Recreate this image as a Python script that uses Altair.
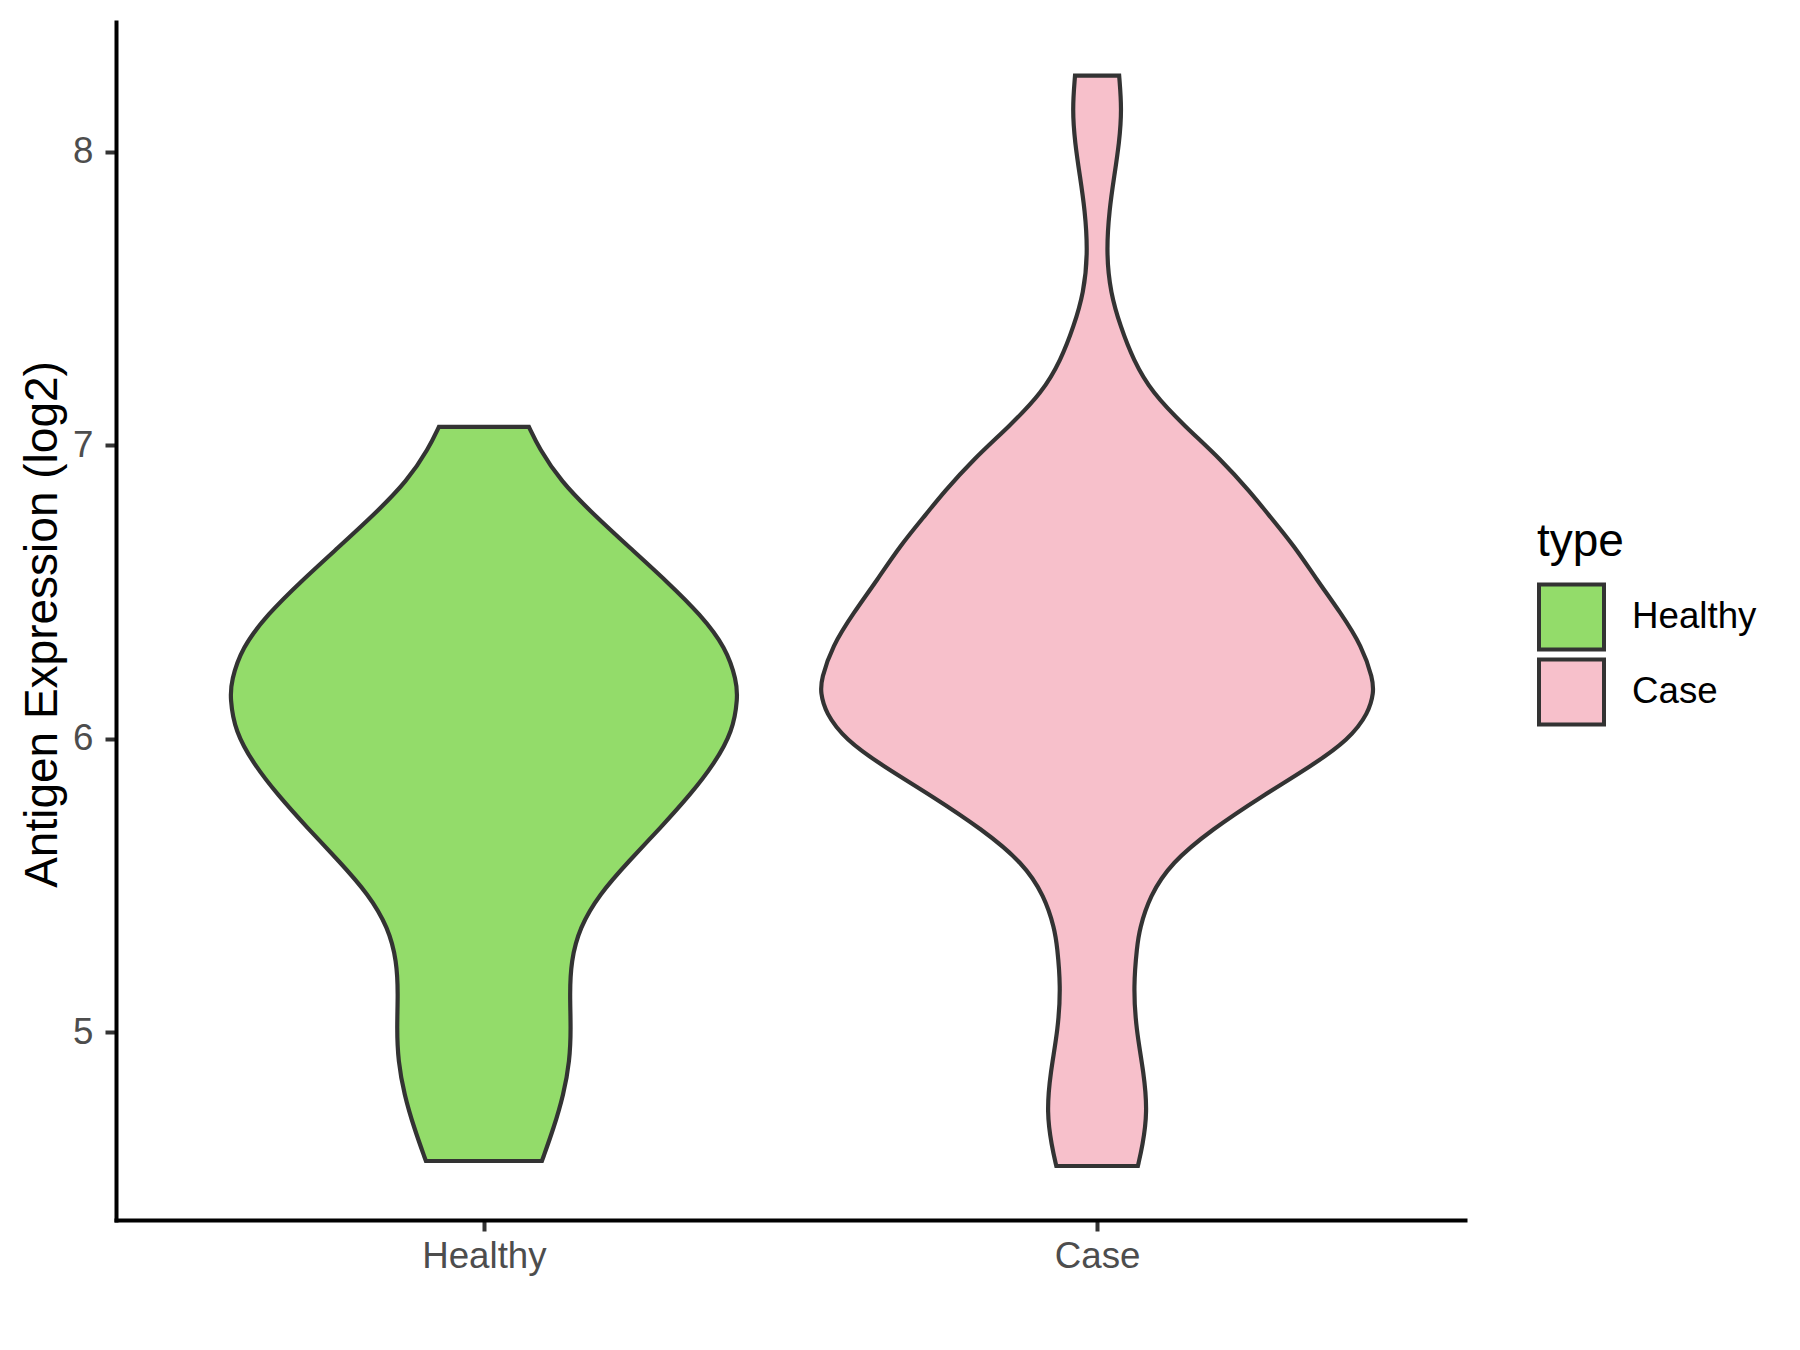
import json
import altair as alt
import pandas as pd

# ---------------- data ----------------
categories = ["Healthy", "Case"]
fill_colors = ["#93DC6A", "#F7C0CB"]

# violin outlines: expression value (log2) and half-width (in category units)
healthy_value = [7.063, 6.991, 6.878, 6.764, 6.651, 6.537, 6.424, 6.310, 6.197, 6.140,
                 6.026, 5.913, 5.811, 5.697, 5.583, 5.470, 5.357, 5.243, 5.129, 5.016,
                 4.902, 4.789, 4.675, 4.562]
healthy_halfwidth = [0.0734, 0.0897, 0.125, 0.179, 0.238, 0.298, 0.353, 0.395, 0.412, 0.414,
                     0.406, 0.375, 0.337, 0.288, 0.236, 0.188, 0.156, 0.142, 0.140, 0.142,
                     0.140, 0.130, 0.114, 0.0946]

case_value = [8.259, 8.144, 8.030, 7.917, 7.803, 7.656, 7.519, 7.406, 7.292, 7.179,
              7.065, 6.952, 6.838, 6.770, 6.656, 6.543, 6.430, 6.316, 6.203, 6.157,
              6.089, 5.998, 5.907, 5.805, 5.691, 5.578, 5.464, 5.351, 5.294, 5.158,
              5.010, 4.863, 4.727, 4.613, 4.545]
case_halfwidth = [0.0360, 0.0404, 0.0361, 0.0280, 0.0199, 0.0150, 0.0218, 0.0380, 0.0587, 0.0897,
                  0.143, 0.202, 0.251, 0.277, 0.322, 0.358, 0.397, 0.432, 0.450, 0.451,
                  0.443, 0.411, 0.349, 0.269, 0.187, 0.121, 0.0856, 0.0691, 0.0652, 0.0592,
                  0.0636, 0.0763, 0.0822, 0.0740, 0.0665]

y_ticks = [5, 6, 7, 8]
y_domain = [4.361, 8.442]
x_domain = [0.4, 2.6]
y_title = "Antigen Expression (log2)"
legend_title = "type"

# ---------------- table ----------------
rows = []
for pos, (name, vals, hws) in enumerate(
        [(categories[0], healthy_value, healthy_halfwidth),
         (categories[1], case_value, case_halfwidth)], start=1):
    for v, h in zip(vals, hws):
        rows.append({"type": name, "pos": pos, "value": v, "hw": h})
df = pd.DataFrame(rows)

FONT = "Liberation Sans"
label_expr = json.dumps(categories) + "[datum.value - 1]"

chart = (
    alt.Chart(df)
    .transform_calculate(xlo="datum.pos - datum.hw", xhi="datum.pos + datum.hw")
    .mark_area(orient="horizontal", interpolate="basis",
               stroke="#333333", strokeWidth=4.2, fillOpacity=1, opacity=1)
    .encode(
        y=alt.Y("value:Q",
                scale=alt.Scale(domain=y_domain, nice=False, zero=False),
                axis=alt.Axis(values=y_ticks, title=y_title, grid=False,
                              domainColor="black", domainWidth=4, domainCap="square",
                              tickColor="#333333", tickWidth=4, tickSize=11,
                              labelFontSize=36.7, labelColor="#4D4D4D", labelPadding=12,
                              labelFont=FONT,
                              titleFontSize=46, titleColor="black", titleFontWeight="normal",
                              titleFont=FONT, titleAngle=270, titleAlign="center",
                              titleBaseline="alphabetic", titleX=-60, titleY=602)),
        x=alt.X("xlo:Q",
                scale=alt.Scale(domain=x_domain, nice=False, zero=False),
                axis=alt.Axis(values=[1, 2], labelExpr=label_expr, title=None, grid=False,
                              domainColor="black", domainWidth=4, domainCap="square",
                              tickColor="#333333", tickWidth=4, tickSize=11,
                              labelFontSize=36.7, labelColor="#4D4D4D", labelPadding=7,
                              labelFont=FONT)),
        x2="xhi:Q",
        color=alt.Color("type:N",
                        scale=alt.Scale(domain=categories, range=fill_colors),
                        sort=categories,
                        legend=alt.Legend(title=legend_title, orient="none",
                                          legendX=1421, legendY=498,
                                          titleFontSize=46, titleFontWeight="normal",
                                          titleColor="black", titleFont=FONT,
                                          titlePadding=16.5,
                                          labelFontSize=36.7, labelColor="black",
                                          labelFont=FONT, labelOffset=26,
                                          symbolType="square", symbolSize=4225,
                                          symbolStrokeColor="#333333",
                                          symbolStrokeWidth=4, symbolOpacity=1,
                                          rowPadding=-11, padding=0)),
    )
    .properties(
        width=1349, height=1198,
        autosize=alt.AutoSizeParams(type="none"),
        padding={"left": 108, "top": 14, "right": 327, "bottom": 122},
        background="white",
    )
    .configure(font=FONT)
    .configure_view(stroke="transparent", strokeWidth=0)
)

chart.save("out.html", embed_options={"renderer": "svg", "actions": False})
